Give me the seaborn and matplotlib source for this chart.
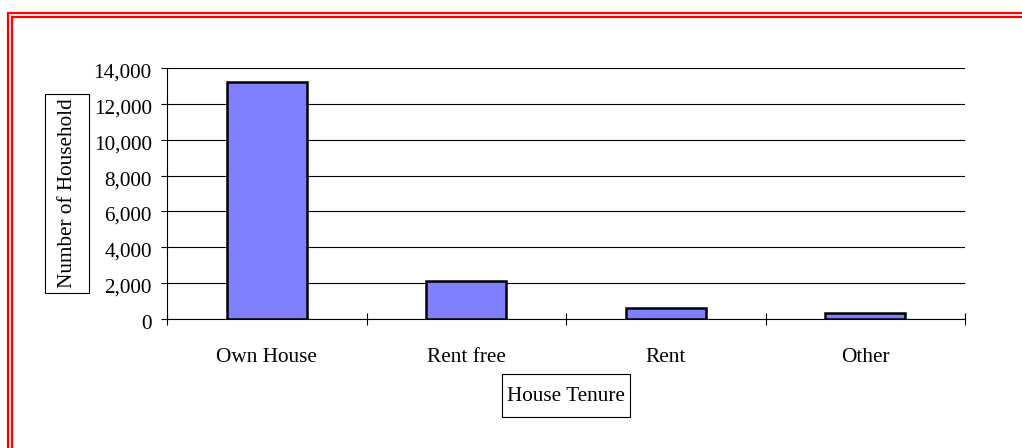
import matplotlib
matplotlib.use("Agg")
import matplotlib.pyplot as plt
import matplotlib.transforms as mtransforms
from matplotlib.patches import Rectangle
from matplotlib.ticker import FixedLocator, FuncFormatter
import seaborn as sns
import pandas as pd

# ---- data ----
categories = ["Own House", "Rent free", "Rent", "Other"]
households = [13200, 2100, 640, 320]
y_ticks = [0, 2000, 4000, 6000, 8000, 10000, 12000, 14000]
x_title = "House Tenure"
y_title = "Number of Household"

sns.set_style("white")
plt.rcParams["font.family"] = ["Liberation Serif", "DejaVu Serif"]

W, H = 1022, 448
FS = 15.3
fig = plt.figure(figsize=(W / 100, H / 100), dpi=100)
fig.patch.set_facecolor("white")

def fx(px):
    return px / W

def fy(py):
    return (H - py) / H

ax = fig.add_axes([fx(167), fy(319), fx(965) - fx(167), fy(68) - fy(319)])

df = pd.DataFrame({"tenure": categories, "households": households})
sns.barplot(data=df, x="tenure", y="households", ax=ax, color="#8080FF",
            saturation=1, edgecolor="black", linewidth=1.8, width=0.4,
            zorder=3)

ax.set_xlim(-0.5, len(categories) - 0.5)
ax.set_ylim(y_ticks[0], y_ticks[-1])

# gridlines
ax.yaxis.set_major_locator(FixedLocator(y_ticks))
ax.yaxis.set_major_formatter(FuncFormatter(lambda v, p: f"{int(v):,}"))
ax.yaxis.grid(True, color="black", linewidth=0.8)
ax.xaxis.grid(False)
ax.set_axisbelow(True)

for s in ["top", "right"]:
    ax.spines[s].set_visible(False)
for s in ["left", "bottom"]:
    ax.spines[s].set_visible(True)
    ax.spines[s].set_color("black")
    ax.spines[s].set_linewidth(0.8)

# x ticks at category boundaries, labels at centers
n = len(categories)
ax.set_xticks([i - 0.5 for i in range(n + 1)])
ax.set_xticklabels([""] * (n + 1))
ax.set_xticks(list(range(n)), minor=True)
ax.set_xticklabels(categories, minor=True)
ax.tick_params(axis="x", which="major", direction="inout", length=9,
               width=0.8, color="black", bottom=True)
ax.tick_params(axis="x", which="minor", length=0, pad=21, labelsize=FS,
               labelcolor="black")
ax.tick_params(axis="y", which="major", direction="out", length=4.5,
               width=0.8, color="black", left=True, pad=6.5, labelsize=FS,
               labelcolor="black")
offset = mtransforms.ScaledTranslation(0, -2.5 / 100, fig.dpi_scale_trans)
for lab in ax.get_yticklabels():
    lab.set_transform(lab.get_transform() + offset)

ax.set_xlabel("")
ax.set_ylabel("")

# axis title boxes
fig.add_artist(Rectangle((fx(45), fy(293)), fx(89) - fx(45), fy(94) - fy(293),
                         transform=fig.transFigure, fill=False,
                         edgecolor="black", linewidth=0.8))
fig.text(fx(67), fy(193.5), y_title, rotation=90, ha="center", va="center",
         fontsize=FS, color="black")
fig.add_artist(Rectangle((fx(502), fy(417)), fx(630) - fx(502), fy(374) - fy(417),
                         transform=fig.transFigure, fill=False,
                         edgecolor="black", linewidth=0.8))
fig.text(fx(566), fy(396), x_title, ha="center", va="center",
         fontsize=FS, color="black")

# red double frame (extends beyond right/bottom edges)
for left, top in [(8.3, 13), (12.3, 17)]:
    fig.add_artist(Rectangle((fx(left), -0.2), 1.5, fy(top) + 0.2,
                             transform=fig.transFigure, fill=False,
                             edgecolor="#FF0000", linewidth=1.6))

fig.savefig("out.png", dpi=100, facecolor="white")
